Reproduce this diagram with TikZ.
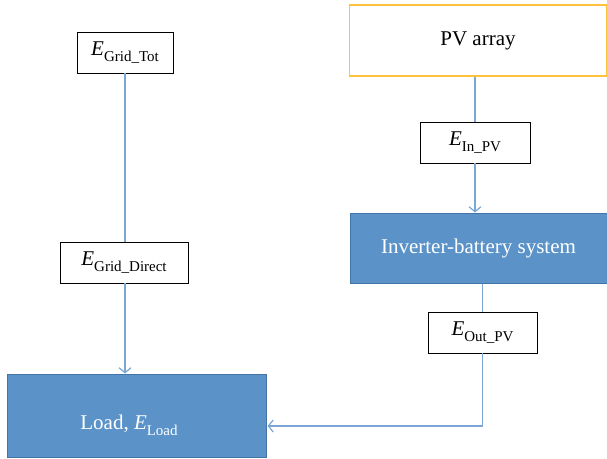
\documentclass[tikz,border=0pt]{standalone}
\usepackage{fontspec}
\setmainfont{Liberation Serif}
\usetikzlibrary{arrows.meta}
\definecolor{boxblue}{HTML}{5B93C9}
\definecolor{boxedge}{HTML}{4374A6}
\definecolor{linkblue}{HTML}{7BA7D7}
\definecolor{pvgold}{HTML}{FFC23A}
\newcommand{\Esub}[1]{{\itshape E}\raisebox{-0.28em}{\fontsize{15}{15}\selectfont #1}}
\tikzset{
  lbl/.style={draw=black, line width=0.9pt, fill=white, inner sep=0pt, font=\fontsize{21}{21}\selectfont},
  bluebox/.style={draw=boxedge, line width=1pt, fill=boxblue, inner sep=0pt, text=white, font=\fontsize{21}{21}\selectfont},
  link/.style={draw=linkblue, line width=1.3pt},
  linkarrow/.style={link, -{Straight Barb[length=5pt,width=12pt,line width=1.2pt]}}
}
\begin{document}
\begin{tikzpicture}[x=1pt,y=-1pt]
\useasboundingbox (0,0) rectangle (607,458);
% label boxes
\node[lbl, minimum width=96pt, minimum height=41pt] (gt) at (125,52.5) {\Esub{Grid\_Tot}};
\node[lbl, minimum width=128pt, minimum height=41pt] (gd) at (124,262.5) {\Esub{Grid\_Direct}};
\node[lbl, minimum width=110pt, minimum height=41pt] (inp) at (475,142.5) {\Esub{In\_PV}};
\node[lbl, minimum width=109pt, minimum height=41pt] (outp) at (482.5,332.5) {\Esub{Out\_PV}};
% main boxes
\node[draw=pvgold, line width=1.2pt, fill=white, minimum width=257pt, minimum height=71pt, inner sep=0pt, font=\fontsize{21}{21}\selectfont] (pv) at (478,40.5) {PV array};
\node[bluebox, minimum width=257pt, minimum height=70pt] (inv) at (478.5,248) {Inverter-battery system};
\node[bluebox, minimum width=259pt, minimum height=83pt] (load) at (136.5,415.5) {};
\node[text=white, font=\fontsize{21}{21}\selectfont, inner sep=0pt] (loadtxt) at (129,425) {Load, \Esub{Load}};
% connectors
\draw[link] (gt.south) -- (gd.north -| gt.south);
\draw[linkarrow] (gd.south -| gt.south) -- (gt.south |- load.north);
\draw[link] (pv.south -| inp.north) -- (inp.north);
\draw[linkarrow] (inp.south) -- (inp.south |- inv.north);
\draw[link] (inv.south -| outp.north) -- (outp.north);
\coordinate (corner) at (outp.south |- 0,426);
\draw[linkarrow] (outp.south) -- (corner) -- ([xshift=1pt]load.east |- corner);
\end{tikzpicture}
\end{document}
